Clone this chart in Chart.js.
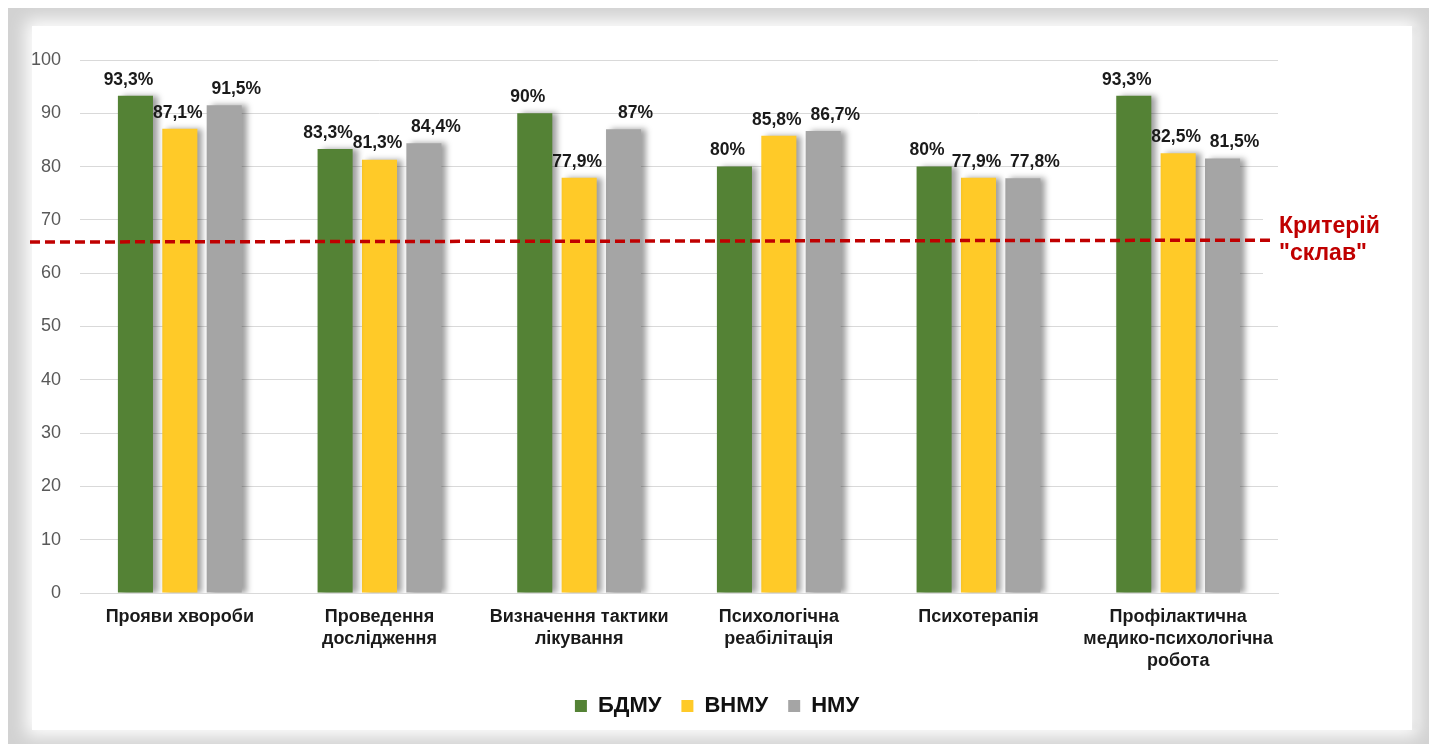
<!DOCTYPE html>
<html>
<head>
<meta charset="utf-8">
<script src="https://cdn.jsdelivr.net/npm/chart.js@4.4.1/dist/chart.umd.min.js"></script>
<style>
  html, body { margin: 0; padding: 0; background: #ffffff; width: 1434px; height: 744px; overflow: hidden; }
  #frame { position: absolute; left: 8px; top: 8px; width: 1421px; height: 736px; background: #d2d2d2; }
  #inner { position: absolute; left: 24px; top: 18px; width: 1380px; height: 704px; background: #ffffff;
           box-shadow: 0 0 16px 6px #ffffff, 6px 0 4px -2px rgba(0,0,0,0.12); }
  #wrap { position: absolute; left: 0; top: 0; width: 1434px; height: 744px; }
</style>
</head>
<body>
<div id="frame"><div id="inner"></div></div>
<div id="wrap"><canvas id="c" width="1434" height="744"></canvas></div>
<script>
const categories = [
  ['Прояви хвороби'],
  ['Проведення', 'дослідження'],
  ['Визначення тактики', 'лікування'],
  ['Психологічна', 'реабілітація'],
  ['Психотерапія'],
  ['Профілактична', 'медико-психологічна', 'робота']
];
const seriesNames = ['БДМУ', 'ВНМУ', 'НМУ'];
const bdmu = [93.3, 83.3, 90, 80, 80, 93.3];
const vnmu = [87.1, 81.3, 77.9, 85.8, 77.9, 82.5];
const nmu  = [91.5, 84.4, 87, 86.7, 77.8, 81.5];
const yTicks = [0, 10, 20, 30, 40, 50, 60, 70, 80, 90, 100];
const criterionLine = [65.85, 66.2];      // start / end value of the dashed criterion line
const criterionLabel = ['Критерій', '"склав"'];

const colors = ['#548235', '#ffca28', '#a5a5a5'];
const labelShift = [-7, -2, 12];          // horizontal nudge of value labels per series
const FONT = '"Liberation Sans", Arial, sans-serif';

function fmt(v) { return String(v).replace('.', ',') + '%'; }

const shadowPlugin = {
  id: 'barShadow',
  beforeDatasetDraw(chart) {
    const ctx = chart.ctx;
    ctx.save();
    ctx.shadowColor = 'rgba(0,0,0,0.38)';
    ctx.shadowBlur = 6;
    ctx.shadowOffsetX = 5;
    ctx.shadowOffsetY = 0;
  },
  afterDatasetDraw(chart) { chart.ctx.restore(); }
};

const labelPlugin = {
  id: 'valueLabels',
  afterDatasetsDraw(chart) {
    const ctx = chart.ctx;
    ctx.save();
    ctx.font = 'bold 17.5px ' + FONT;
    ctx.fillStyle = '#1a1a1a';
    ctx.textAlign = 'center';
    ctx.textBaseline = 'middle';
    chart.data.datasets.forEach((ds, di) => {
      const meta = chart.getDatasetMeta(di);
      meta.data.forEach((bar, i) => {
        ctx.fillText(fmt(ds.data[i]), bar.x + labelShift[di], bar.y - 16);
      });
    });
    ctx.restore();
  }
};

const criterionPlugin = {
  id: 'criterion',
  afterDatasetsDraw(chart) {
    const ctx = chart.ctx;
    const y = chart.scales.y;
    const a = chart.chartArea;
    const y1 = y.getPixelForValue(criterionLine[0]);
    const y2 = y.getPixelForValue(criterionLine[1]);
    ctx.save();
    // label box hides the ends of the nearby gridlines
    ctx.fillStyle = '#ffffff';
    ctx.fillRect(a.right - 15, y.getPixelForValue(72), 17, y.getPixelForValue(58) - y.getPixelForValue(72));
    ctx.strokeStyle = '#c00000';
    ctx.lineWidth = 3.5;
    ctx.setLineDash([10, 5]);
    ctx.beginPath();
    ctx.moveTo(a.left - 50, y1);
    ctx.lineTo(a.right - 5, y2);
    ctx.stroke();
    ctx.setLineDash([]);
    ctx.font = 'bold 23px ' + FONT;
    ctx.fillStyle = '#c00000';
    ctx.textAlign = 'left';
    ctx.textBaseline = 'middle';
    ctx.fillText(criterionLabel[0], a.right + 1, y2 - 13);
    ctx.fillText(criterionLabel[1], a.right + 1, y2 + 14);
    ctx.restore();
  }
};

new Chart(document.getElementById('c'), {
  type: 'bar',
  data: {
    labels: categories,
    datasets: [
      { label: seriesNames[0], data: bdmu, backgroundColor: colors[0] },
      { label: seriesNames[1], data: vnmu, backgroundColor: colors[1] },
      { label: seriesNames[2], data: nmu,  backgroundColor: colors[2] }
    ]
  },
  options: {
    responsive: false,
    animation: false,
    devicePixelRatio: 1,
    layout: { padding: { left: 10, right: 10, top: 60, bottom: 17 } },
    datasets: { bar: { categoryPercentage: 0.667, barPercentage: 0.79 } },
    scales: {
      x: {
        grid: { display: false, drawTicks: false },
        border: { display: true, color: '#d9d9d9', width: 1 },
        ticks: {
          color: '#1a1a1a', padding: 13, maxRotation: 0, autoSkip: false,
          font: { family: FONT, size: 18, weight: 'bold', lineHeight: 1.222 }
        },
        afterFit(s) { s.height = 82; }
      },
      y: {
        min: 0, max: 100,
        afterBuildTicks(s) { s.ticks = yTicks.map(v => ({ value: v })); },
        grid: { color: '#d9d9d9', lineWidth: 1, drawTicks: false },
        border: { display: false },
        ticks: { color: '#595959', padding: 19, font: { family: FONT, size: 18 } },
        afterFit(s) { s.width = 70; }
      },
      y2: {
        position: 'right', min: 0, max: 100,
        grid: { display: false }, border: { display: false },
        ticks: { display: false },
        afterFit(s) { s.width = 146; }
      }
    },
    plugins: {
      legend: {
        position: 'bottom',
        labels: {
          boxWidth: 12, boxHeight: 12, padding: 20,
          color: '#111111',
          font: { family: FONT, size: 22, weight: 'bold' }
        }
      },
      tooltip: { enabled: false }
    }
  },
  plugins: [shadowPlugin, labelPlugin, criterionPlugin]
});
</script>
</body>
</html>
